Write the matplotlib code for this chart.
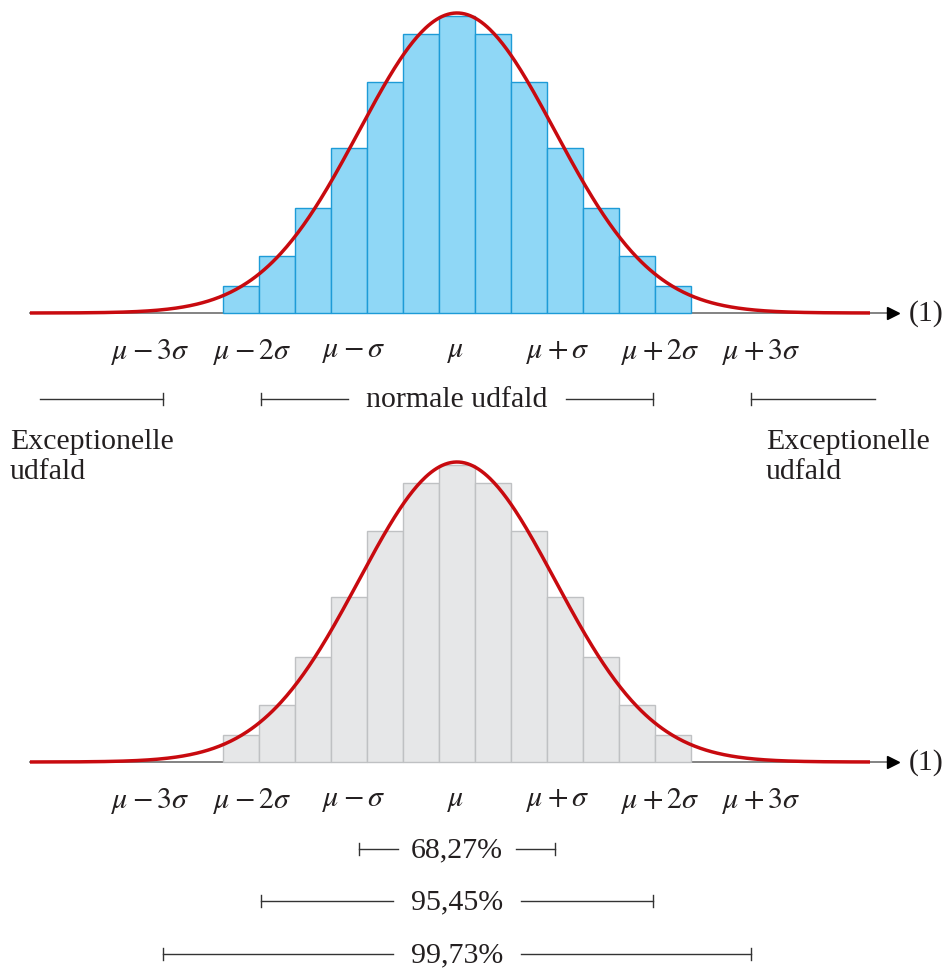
import numpy as np
import matplotlib.pyplot as plt

# =========================
# Data
# =========================
# bar heights relative to the top of the normal curve (13 bars)
bar_heights = [0.09, 0.19, 0.35, 0.55, 0.77, 0.93, 0.99, 0.93, 0.77, 0.55, 0.35, 0.19, 0.09]
bar_width = 0.368          # in units of sigma

tick_k = [-3, -2, -1, 0, 1, 2, 3]
tick_labels = [r'$\mu - 3\sigma$', r'$\mu - 2\sigma$', r'$\mu - \sigma$', r'$\mu$',
               r'$\mu + \sigma$', r'$\mu + 2\sigma$', r'$\mu + 3\sigma$']

pct_labels = ['68,27%', '95,45%', '99,73%']
pct_k = [1, 2, 3]

normal_label = 'normale udfald'
except_label = 'Exceptionelle\nudfald'

# =========================
# Layout (pixel units: x -> sigma, y -> px from bottom)
# =========================
W, H = 946, 970
mu_px, sig_px = 457, 98
peak_px = 300
base_top = H - 314
base_bot = H - 763


def xs(px):
    return (px - mu_px) / sig_px


plt.rcParams['font.family'] = ['Liberation Serif', 'DejaVu Serif']
plt.rcParams['mathtext.fontset'] = 'stix'
plt.rcParams['text.color'] = '#231f20'
FS = 21.5

fig = plt.figure(figsize=(W / 100, H / 100), dpi=100)
ax = fig.add_axes([0, 0, 1, 1])
ax.set_xlim(xs(0), xs(W))
ax.set_ylim(0, H)
ax.axis('off')

centers = (np.arange(len(bar_heights)) - len(bar_heights) // 2) * bar_width
xc = np.linspace(xs(30), xs(870), 600)
curve = np.exp(-xc ** 2 / 2)

red = '#c80a0f'
panels = [(base_top, '#8fd7f6', '#1d9bd7'), (base_bot, '#e6e7e8', '#bfc1c3')]
for base, fc, ec in panels:
    # x axis with arrow
    ax.plot([xs(30), xs(890)], [base, base], color='#7a7a7a', lw=1.3, zorder=1)
    ax.plot(xs(893), base, marker='>', color='black', ms=9, zorder=3)
    ax.text(xs(909), base, '(1)', fontsize=FS, va='center', ha='left')
    ax.bar(centers, np.array(bar_heights) * peak_px, width=bar_width, bottom=base,
           color=fc, edgecolor=ec, linewidth=1.0, zorder=2)
    ax.plot(xc, base + curve * peak_px, color=red, lw=2.5, zorder=4,
            solid_capstyle='butt')
    # tick labels
    for k, lab in zip(tick_k, tick_labels):
        ax.text(k * 1.04 - 0.01, base - 38, lab, fontsize=FS, ha='center', va='center')


def bracket(x0, x1, y, gap=None, left_tick=True, right_tick=True):
    c = '#333333'
    if gap is None:
        ax.plot([x0, x1], [y, y], color=c, lw=1.0)
    else:
        ax.plot([x0, -gap], [y, y], color=c, lw=1.0)
        ax.plot([gap, x1], [y, y], color=c, lw=1.0)
    if left_tick:
        ax.plot([x0, x0], [y - 6, y + 6], color=c, lw=1.0)
    if right_tick:
        ax.plot([x1, x1], [y - 6, y + 6], color=c, lw=1.0)


# top panel brackets
y_norm = H - 400
bracket(xs(40), -3, y_norm, left_tick=False)
bracket(-2, 2, y_norm, gap=1.117)
ax.text(0, y_norm, normal_label, fontsize=FS, ha='center', va='center')
bracket(3, xs(875), y_norm, right_tick=False)
ax.text(xs(10), H - 429, except_label, fontsize=FS, ha='left', va='top', linespacing=1.18)
ax.text(xs(766), H - 429, except_label, fontsize=FS, ha='left', va='top', linespacing=1.18)

# bottom panel brackets
pct_y = [H - 850, H - 902, H - 955]
pct_gap = [0.602, 0.658, 0.658]
for k, lab, y, g in zip(pct_k, pct_labels, pct_y, pct_gap):
    bracket(-k, k, y, gap=g)
    ax.text(0, y, lab, fontsize=FS, ha='center', va='center')

fig.savefig('out.png', dpi=100)
